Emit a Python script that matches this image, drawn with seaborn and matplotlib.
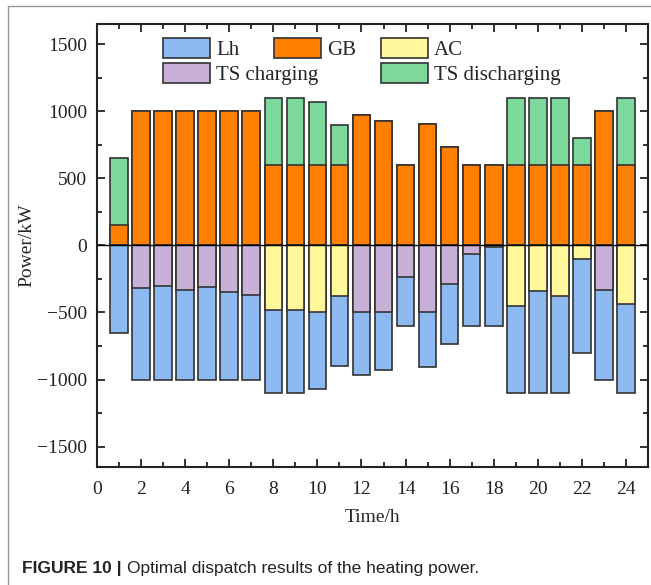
'''
Optimal dispatch results of the heating power (stacked bars)
'''
import numpy as np
import pandas as pd
from matplotlib import pyplot as plt
from matplotlib.lines import Line2D
from matplotlib.patches import Patch
from matplotlib.legend import Legend
from matplotlib.ticker import MultipleLocator, AutoMinorLocator
import seaborn as sns

# - data ----------------------------------------------------------------------
hours = list(range(1, 25))
gb = [150, 1000, 1000, 1000, 1000, 1000, 1000, 600, 600, 600, 600, 970,
      930, 600, 905, 735, 600, 600, 600, 600, 600, 600, 1000, 600]
ts_dis = [500, 0, 0, 0, 0, 0, 0, 500, 500, 470, 300, 0,
          0, 0, 0, 0, 0, 0, 500, 500, 500, 200, 0, 500]
ts_ch = [0, 320, 300, 330, 310, 350, 370, 0, 0, 0, 0, 500,
         500, 235, 500, 285, 65, 12, 0, 0, 0, 0, 330, 0]
ac = [0, 0, 0, 0, 0, 0, 0, 480, 480, 500, 380, 0,
      0, 0, 0, 0, 0, 0, 455, 340, 380, 105, 0, 435]
lh = [650, 680, 700, 670, 690, 650, 630, 620, 620, 570, 520, 470,
      430, 365, 405, 450, 535, 588, 645, 760, 720, 695, 670, 665]

colors = {'Lh': '#8cb9f0', 'GB': '#ff7f00', 'AC': '#fff799',
          'TS charging': '#c8b0d6', 'TS discharging': '#7dd89b'}

df = pd.DataFrame({'hour': hours, 'GB': gb, 'TS discharging': ts_dis,
                   'TS charging': ts_ch, 'AC': ac, 'Lh': lh})

# - plot ----------------------------------------------------------------------
sns.set_style('ticks')
plt.rcParams['font.family'] = ['Liberation Serif', 'DejaVu Serif']
plt.rcParams['axes.unicode_minus'] = True

fig = plt.figure(figsize=(6.51, 5.85), dpi=100)
ax = fig.add_axes([97 / 651, 1 - 466.7 / 585, 551 / 651, 442.7 / 585])

edge = dict(edgecolor='#333333', linewidth=1.2, saturation=1, errorbar=None,
            native_scale=True, width=0.8, ax=ax)

# positive side: TS discharging stacked on GB
sns.barplot(x=df['hour'], y=df['GB'] + df['TS discharging'],
            color=colors['TS discharging'], **edge)
sns.barplot(x=df['hour'], y=df['GB'], color=colors['GB'], **edge)
# negative side: Lh below TS charging / AC
sns.barplot(x=df['hour'], y=-(df['Lh'] + df['TS charging'] + df['AC']),
            color=colors['Lh'], **edge)
sns.barplot(x=df['hour'], y=-df['TS charging'],
            color=colors['TS charging'], **edge)
sns.barplot(x=df['hour'], y=-df['AC'], color=colors['AC'], **edge)

ax.axhline(0, color='black', linewidth=1.0, zorder=5)

ax.set_xlim(0, 25)
ax.set_ylim(-1650, 1650)
ax.xaxis.set_major_locator(MultipleLocator(2))
ax.xaxis.set_minor_locator(MultipleLocator(1))
ax.yaxis.set_major_locator(MultipleLocator(500))
ax.yaxis.set_minor_locator(AutoMinorLocator(2))
ax.tick_params(which='both', direction='in', top=True, right=True,
               labelsize=14, colors='#222222', width=1.3)
ax.tick_params(which='major', length=6)
ax.tick_params(which='minor', length=3.5)
ax.tick_params(axis='x', which='major', pad=10)
ax.tick_params(axis='y', which='major', pad=7)
for s in ax.spines.values():
    s.set_linewidth(1.5)
    s.set_color('#222222')

ax.set_xlabel('Time/h', fontsize=14, labelpad=8)
ax.set_ylabel('Power/kW', fontsize=14, labelpad=1)

# legend laid out as in the original (two rows, uneven columns)
entries = [('Lh', 0.120, 0.968), ('GB', 0.321, 0.968), ('AC', 0.515, 0.968),
           ('TS charging', 0.120, 0.912), ('TS discharging', 0.515, 0.912)]
for name, lx, ly in entries:
    handle = Patch(facecolor=colors[name], edgecolor='#333333',
                   linewidth=1.2, label=name)
    leg = Legend(ax, [handle], [name], loc='upper left',
                 bbox_to_anchor=(lx, ly), frameon=False, borderpad=0,
                 borderaxespad=0, fontsize=15, handlelength=2.25,
                 handleheight=1.1, handletextpad=0.3)
    leg.set_zorder(10)
    ax.add_artist(leg)

# panel border and caption
fig.add_artist(Line2D([8 / 651, 8 / 651], [0, 1 - 6 / 585],
                      color='#999999', linewidth=1.0))
fig.add_artist(Line2D([8 / 651, 1], [1 - 6 / 585, 1 - 6 / 585],
                      color='#999999', linewidth=1.0))
t1 = fig.text(22 / 651, 1 - 568 / 585, 'FIGURE 10 |', family='Liberation Sans',
              fontweight='bold', fontsize=12.5, va='center', color='#222222')
fig.canvas.draw()
ax.annotate('Optimal dispatch results of the heating power.', xy=(1, 0.5),
            xycoords=t1, xytext=(4, 0), textcoords='offset points',
            va='center', family='Liberation Sans', fontsize=12.5,
            color='#222222', annotation_clip=False)

plt.savefig('out.png', dpi=100)
